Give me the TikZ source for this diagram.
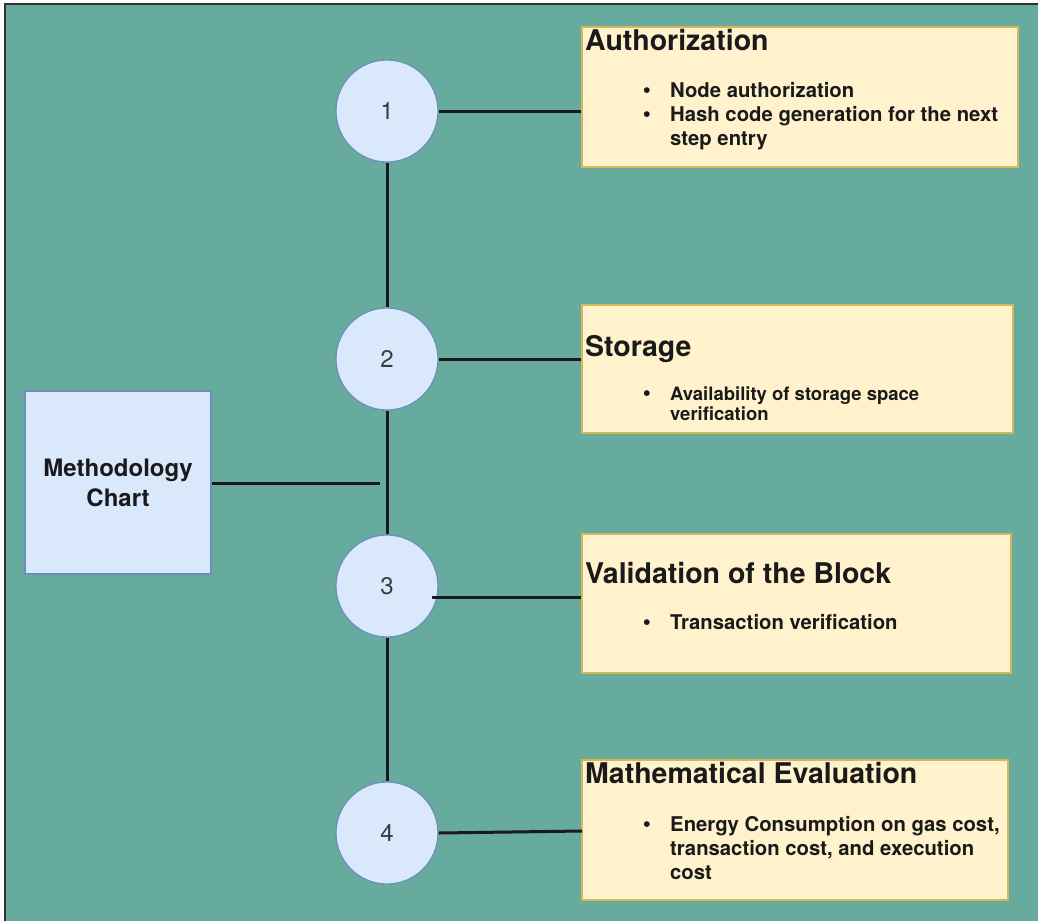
\documentclass[tikz,border=0pt]{standalone}
\usepackage{fontspec}
\setmainfont{TeX Gyre Heros}
\definecolor{bgteal}{HTML}{67AB9F}
\definecolor{bluefill}{HTML}{DAE8FC}
\definecolor{bluedraw}{HTML}{6C8EBF}
\definecolor{yelfill}{HTML}{FFF2CC}
\definecolor{yeldraw}{HTML}{D6B656}
\definecolor{ink}{HTML}{1A1A1A}
\begin{document}
\begin{tikzpicture}[x=1pt,y=-1pt,
  circ/.style={circle,fill=bluefill,draw=bluedraw,line width=1.2pt,minimum size=102pt,inner sep=0pt},
  num/.style={font=\fontsize{24}{28}\selectfont,text=ink!85},
  infobox/.style={rectangle,fill=yelfill,draw=yeldraw,line width=1.2pt,inner sep=0pt},
  mbox/.style={rectangle,fill=bluefill,draw=bluedraw,line width=1.2pt,inner sep=0pt,minimum width=186pt,minimum height=183pt,
    align=center,font=\fontsize{24}{30}\selectfont\bfseries,text=ink},
  conn/.style={draw=ink,line width=3pt},
  ttl/.style={anchor=base west,inner sep=0pt,font=\fontsize{28.5}{32}\selectfont\bfseries,text=ink},
  bul/.style={anchor=base west,inner sep=0pt,font=\fontsize{20.3}{24}\selectfont\bfseries,text=ink},
  bulsm/.style={anchor=base west,inner sep=0pt,font=\fontsize{18.5}{22}\selectfont\bfseries,text=ink},
  dot/.style={anchor=base,inner sep=0pt,font=\fontsize{23}{24}\selectfont\bfseries,text=ink}
]
\useasboundingbox (0,0) rectangle (1038,921);
\fill[bgteal] (4,3) rectangle (1038,921);
\draw[draw=ink!90,line width=2pt] (5,921) -- (5,4) -- (1038,4);

% boxes
\node[infobox,minimum width=436pt,minimum height=140pt] (b1) at (800,97) {};
\node[infobox,minimum width=431pt,minimum height=128pt] (b2) at (797.5,369) {};
\node[infobox,minimum width=429pt,minimum height=139pt] (b3) at (796.5,603.5) {};
\node[infobox,minimum width=426pt,minimum height=140pt] (b4) at (795,830) {};

\node[mbox] (m) at (118,482.5) {Methodology\\Chart};

% circles and connectors
\node[circ] (c1) at (387,111) {};
\node[circ] (c2) at (387,359) {};
\node[circ] (c3) at (387,586) {};
\node[circ] (c4) at (387,833) {};
\draw[conn] (c1.south) -- (c2.north);
\draw[conn] (c2.south) -- (c3.north);
\draw[conn] (c3.south) -- (c4.north);
\coordinate (mj) at (380,483);
\draw[conn] (m.east |- mj) -- (mj);
\draw[conn] (c1.east) -- (c1.east -| b1.west);
\draw[conn] (c2.east) -- (c2.east -| b2.west);
\coordinate (s3) at (432,597);
\draw[conn] (s3) -- (s3 -| b3.west);
\coordinate (e4) at (582,831);
\draw[conn] (c4.east) -- (e4);

% numbers
\node[num] (n1) at (c1) {1};
\node[num] (n2) at (c2) {2};
\node[num] (n3) at (c3) {3};
\node[num] (n4) at (c4) {4};

% box 1
\node[ttl] (t1) at (585,50) {Authorization};
\node[dot] (d1a) at (647,97) {•};
\node[bul] (l1a) at (670,97) {Node authorization};
\node[dot] (d1b) at (647,121) {•};
\node[bul] (l1b) at (670,121) {Hash code generation for the next};
\node[bul] (l1c) at (670,145) {step entry};

% box 2
\node[ttl] (t2) at (585,356) {Storage};
\node[dot] (d2a) at (647,400) {•};
\node[bulsm] (l2a) at (670,400) {Availability of storage space};
\node[bulsm] (l2b) at (670,420) {verification};

% box 3
\node[ttl] (t3) at (585,583) {Validation of the Block};
\node[dot] (d3a) at (647,629) {•};
\node[bul] (l3a) at (670,629) {Transaction verification};

% box 4
\node[ttl] (t4) at (585,783) {Mathematical Evaluation};
\node[dot] (d4a) at (647,831) {•};
\node[bul] (l4a) at (670,831) {Energy Consumption on gas cost,};
\node[bul] (l4b) at (670,855) {transaction cost, and execution};
\node[bul] (l4c) at (670,879) {cost};
\end{tikzpicture}
\end{document}
